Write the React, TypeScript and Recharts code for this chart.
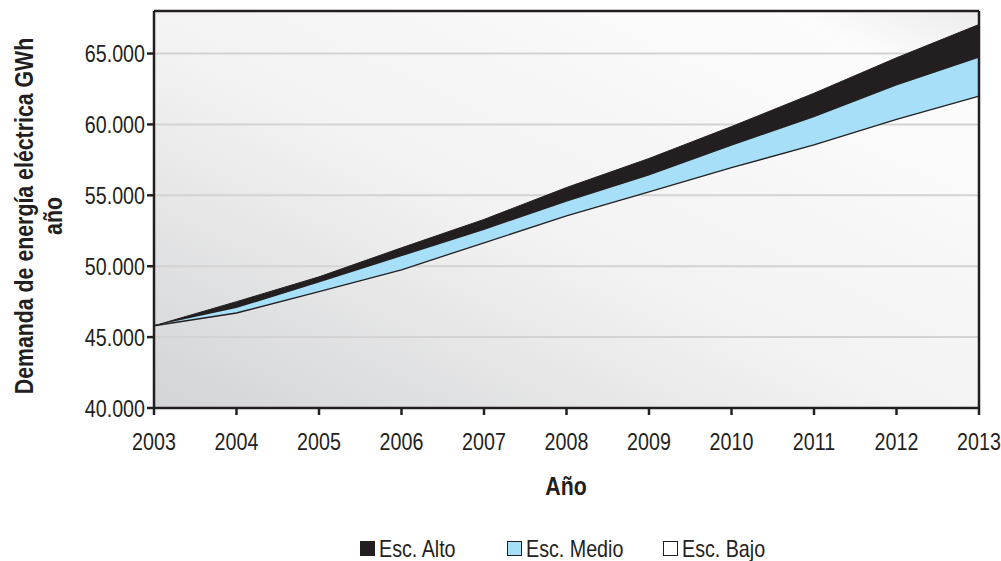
import React from 'react';
import {
  ComposedChart,
  Area,
  Line,
  XAxis,
  YAxis,
  CartesianGrid,
  ReferenceLine,
  Legend,
  Label,
} from 'recharts';

const years = [2003, 2004, 2005, 2006, 2007, 2008, 2009, 2010, 2011, 2012, 2013];
const escBajo = [45800, 46700, 48200, 49750, 51650, 53550, 55250, 56950, 58550, 60350, 62000];
const escMedio = [45800, 47050, 48850, 50700, 52550, 54550, 56400, 58500, 60500, 62750, 64700];
const escAlto = [45800, 47500, 49250, 51300, 53300, 55550, 57600, 59850, 62200, 64700, 67050];
const yTicks = [40000, 45000, 50000, 55000, 60000, 65000];

// no narrow font installed, so Liberation Sans gets squeezed horizontally
const FONT = "'Liberation Sans', Arial, sans-serif";
const NARROW = 0.82;
const DARK = '#231f20';
const BLUE = '#a6dff7';

const rows = years.map((year, i) => ({
  year,
  bajo: escBajo[i],
  medioBand: [escBajo[i], escMedio[i]],
  altoBand: [escMedio[i], escAlto[i]],
}));

const fmt = (v: number) => String(v).replace(/(\d)(?=(\d{3})+$)/g, '$1.');

const XTick = ({ x, y, payload }: any) => (
  <text transform={`translate(${x},${y}) scale(${NARROW},1)`} textAnchor="middle" dy="0.71em" fill={DARK} fontFamily={FONT} fontSize={24}>
    {payload.value}
  </text>
);

const YTick = ({ x, y, payload }: any) => (
  <text transform={`translate(${x},${y}) scale(${NARROW},1)`} textAnchor="end" dy="0.355em" fill={DARK} fontFamily={FONT} fontSize={24}>
    {fmt(payload.value)}
  </text>
);

const legendItems = [
  { name: 'Esc. Alto', fill: DARK, width: 147 },
  { name: 'Esc. Medio', fill: BLUE, width: 156 },
  { name: 'Esc. Bajo', fill: '#ffffff', width: 130 },
];

const renderLegend = () => (
  <div style={{ height: 25, paddingLeft: 360, display: 'flex', alignItems: 'center', fontFamily: FONT, fontSize: 24, color: DARK, whiteSpace: 'nowrap' }}>
    {legendItems.map((it) => (
      <div key={it.name} style={{ width: it.width, display: 'flex', alignItems: 'center' }}>
        <span style={{ display: 'inline-block', width: 13, height: 13, background: it.fill, border: `1px solid ${DARK}`, marginRight: 4 }} />
        <span style={{ display: 'inline-block', transform: `scaleX(${NARROW})`, transformOrigin: 'left center' }}>{it.name}</span>
      </div>
    ))}
  </div>
);

export default function App() {
  return (
    <div style={{ position: 'absolute', left: 0, top: 0 }}>
      <ComposedChart width={1001} height={561} data={rows} margin={{ top: 11, right: 22, bottom: 0, left: 0 }}>
        <defs>
          <linearGradient id="plotBg" x1="0" y1="1" x2="1" y2="0">
            <stop offset="0%" stopColor="#d3d4d6" />
            <stop offset="45%" stopColor="#f2f2f2" />
            <stop offset="88%" stopColor="#fcfcfc" />
            <stop offset="100%" stopColor="#ececed" />
          </linearGradient>
        </defs>
        <CartesianGrid vertical={false} fill="url(#plotBg)" stroke="#d3d3d3" strokeWidth={2} />
        <XAxis
          dataKey="year"
          type="number"
          domain={[2003, 2013]}
          ticks={years}
          height={128}
          stroke={DARK}
          strokeWidth={2.5}
          tickSize={7}
          tickMargin={18}
          tick={<XTick />}
        >
          <Label
            content={() => (
              <text transform={`translate(566,495) scale(${NARROW},1)`} textAnchor="middle" fill={DARK} fontFamily={FONT} fontSize={26} fontWeight="bold">
                Año
              </text>
            )}
          />
        </XAxis>
        <YAxis
          type="number"
          domain={[40000, 68000]}
          ticks={yTicks}
          width={154}
          stroke={DARK}
          strokeWidth={2.5}
          tickSize={7}
          tickMargin={2}
          tick={<YTick />}
        >
          <Label
            content={() => (
              <text transform={`translate(33,216) rotate(-90) scale(${NARROW},1)`} textAnchor="middle" fill={DARK} fontFamily={FONT} fontSize={26} fontWeight="bold">
                <tspan x={0} y={0}>Demanda de energía eléctrica GWh</tspan>
                <tspan x={0} dy={29}>año</tspan>
              </text>
            )}
          />
        </YAxis>
        <ReferenceLine y={68000} stroke={DARK} strokeWidth={2.5} />
        <ReferenceLine x={2013} stroke={DARK} strokeWidth={2.5} />
        <Area dataKey="altoBand" name="Esc. Alto" type="linear" fill={DARK} fillOpacity={1} stroke={DARK} strokeWidth={1} isAnimationActive={false} />
        <Area dataKey="medioBand" name="Esc. Medio" type="linear" fill={BLUE} fillOpacity={1} stroke="none" isAnimationActive={false} />
        <Line dataKey="bajo" name="Esc. Bajo" type="linear" stroke={DARK} strokeWidth={1.3} dot={false} isAnimationActive={false} />
        <Legend verticalAlign="bottom" content={renderLegend} />
      </ComposedChart>
    </div>
  );
}
